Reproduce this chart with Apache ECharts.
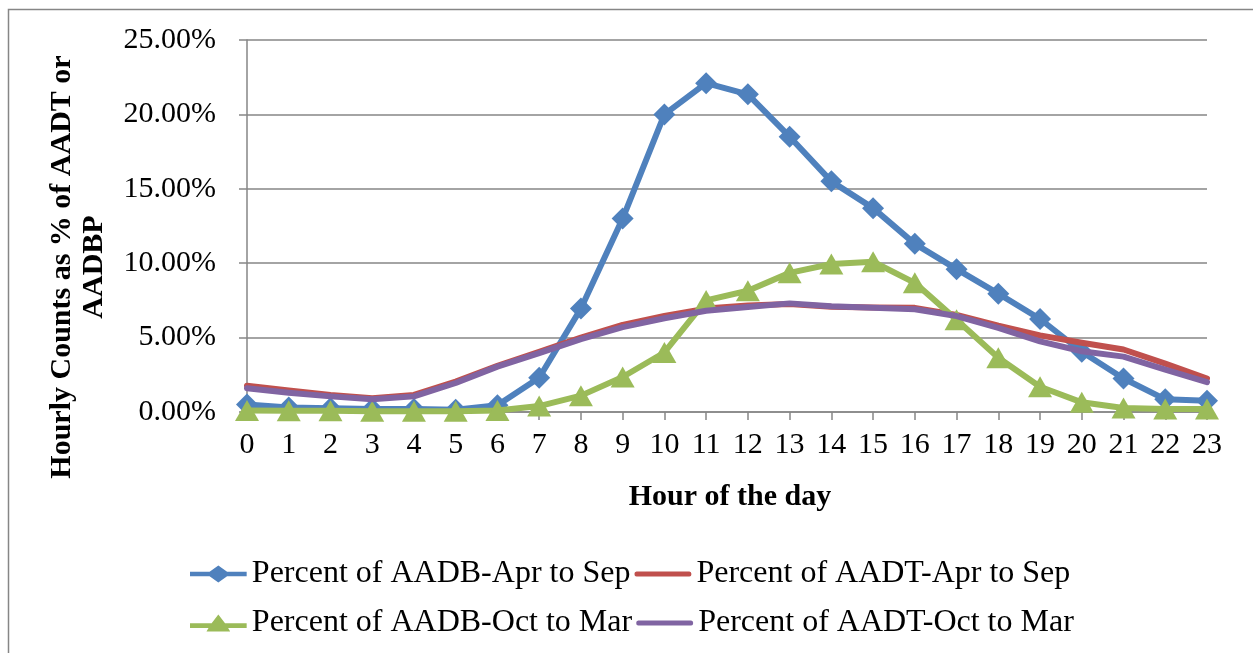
<!DOCTYPE html>
<html>
<head>
<meta charset="utf-8">
<script src="https://cdn.jsdelivr.net/npm/echarts@6/dist/echarts.min.js"></script>
<style>html,body{margin:0;padding:0;background:#fff;}#chart{width:1253px;height:653px;}</style>
</head>
<body>
<div id="chart"></div>
<script>
var hours = ['0','1','2','3','4','5','6','7','8','9','10','11','12','13','14','15','16','17','18','19','20','21','22','23'];
var seriesNames = ['Percent of AADB-Apr to Sep','Percent of AADT-Apr to Sep','Percent of AADB-Oct to Mar','Percent of AADT-Oct to Mar'];
var aadbAprSep = [0.5,0.3,0.25,0.2,0.2,0.15,0.45,2.3,6.95,13.0,20.0,22.1,21.35,18.5,15.5,13.7,11.3,9.6,7.95,6.25,4.05,2.25,0.85,0.75];
var aadtAprSep = [1.77,1.45,1.15,0.92,1.15,2.05,3.1,4.05,5.0,5.85,6.45,6.95,7.15,7.25,7.08,7.02,7.0,6.52,5.8,5.15,4.65,4.2,3.25,2.25];
var aadbOctMar = [0.1,0.08,0.08,0.05,0.05,0.05,0.1,0.4,1.1,2.35,4.0,7.5,8.15,9.35,9.95,10.1,8.68,6.2,3.65,1.7,0.65,0.27,0.2,0.2];
var aadtOctMar = [1.6,1.3,1.05,0.85,1.05,1.95,3.05,3.95,4.9,5.7,6.3,6.8,7.05,7.3,7.1,7.0,6.9,6.45,5.65,4.75,4.08,3.72,2.85,2.0];
var yTicks = {min:0, max:25, step:5};

var colors = ['#4F81BD','#C0504D','#9BBB59','#8064A2'];
var font = 'Liberation Serif';
var chart = echarts.init(document.getElementById('chart'));

var iconDiamond = 'path://M0,6 L19,6 L27.5,0 L36,6 L55,6 L55,10.5 L36,10.5 L27.5,16.5 L19,10.5 L0,10.5 Z';
var iconTriangle = 'path://M0,8.5 L21,8.5 L27.5,0 L34,8.5 L55,8.5 L55,13 L37,13 L39,16.5 L16,16.5 L18,13 L0,13 Z';
var iconLine = 'path://M2,5.5 L53,5.5 Q55,5.5 55,8 Q55,10.5 53,10.5 L2,10.5 Q0,10.5 0,8 Q0,5.5 2,5.5 Z';

function lineSeries(i, data, symbol, size){
  return {
    name: seriesNames[i], type: 'line', data: data,
    symbol: symbol, symbolSize: size, showSymbol: symbol !== 'none',
    lineStyle: {color: colors[i], width: 6, join: 'round', cap: 'round'},
    itemStyle: {color: colors[i]},
    animation: false, z: 2 + i
  };
}

var legendText = {fontFamily: font, fontSize: 32, color: '#000'};

chart.setOption({
  backgroundColor: '#fff',
  textStyle: {fontFamily: font, color: '#000'},
  color: colors,
  grid: {left: 247, right: 46, top: 40, bottom: 241, containLabel: false},
  xAxis: {
    type: 'category', data: hours, boundaryGap: false,
    axisLine: {lineStyle: {color: '#868686', width: 1.5}},
    axisTick: {show: true, alignWithLabel: true, length: 8, lineStyle: {color: '#868686', width: 1.5}},
    axisLabel: {fontFamily: font, fontSize: 30, color: '#000', margin: 18, interval: 0},
    splitLine: {show: false}
  },
  yAxis: {
    type: 'value', min: yTicks.min, max: yTicks.max, interval: yTicks.step,
    axisLine: {show: true, lineStyle: {color: '#868686', width: 1.5}},
    axisTick: {show: true, length: 8, lineStyle: {color: '#868686', width: 1.5}},
    axisLabel: {fontFamily: font, fontSize: 30, color: '#000', margin: 31,
      formatter: function(v){ return v.toFixed(2) + '%'; }},
    splitLine: {show: true, lineStyle: {color: '#868686', width: 1.5}}
  },
  legend: [
    {data: [{name: seriesNames[0], icon: iconDiamond}, {name: seriesNames[1], icon: iconLine}],
     left: 190, top: 558, padding: 0, orient: 'horizontal',
     itemWidth: 57, itemHeight: 17, itemGap: 4, textStyle: legendText},
    {data: [{name: seriesNames[2], icon: iconTriangle}, {name: seriesNames[3], icon: iconLine}],
     left: 190, top: 607, padding: 0, orient: 'horizontal',
     itemWidth: 57, itemHeight: 17, itemGap: 4, textStyle: legendText}
  ],
  graphic: [
    {type: 'rect', left: 6, top: 7, shape: {width: 1400, height: 800}, style: {fill: 'none', stroke: '#868686', lineWidth: 1.5}, silent: true, z: -1},
    {type: 'text', x: 78, y: 267, rotation: Math.PI/2,
     style: {text: 'Hourly Counts as % of AADT or\nAADBP', fontFamily: font, fontWeight: 'bold', fontSize: 30, lineHeight: 32, fill: '#000', align: 'center', verticalAlign: 'middle'}},
    {type: 'text', x: 730, y: 497,
     style: {text: 'Hour of the day', fontFamily: font, fontWeight: 'bold', fontSize: 30, fill: '#000', align: 'center', verticalAlign: 'middle'}}
  ],
  series: [
    lineSeries(0, aadbAprSep, 'diamond', 22),
    lineSeries(1, aadtAprSep, 'none', 0),
    lineSeries(2, aadbOctMar, 'triangle', [24, 21]),
    lineSeries(3, aadtOctMar, 'none', 0)
  ]
});
</script>
</body>
</html>
